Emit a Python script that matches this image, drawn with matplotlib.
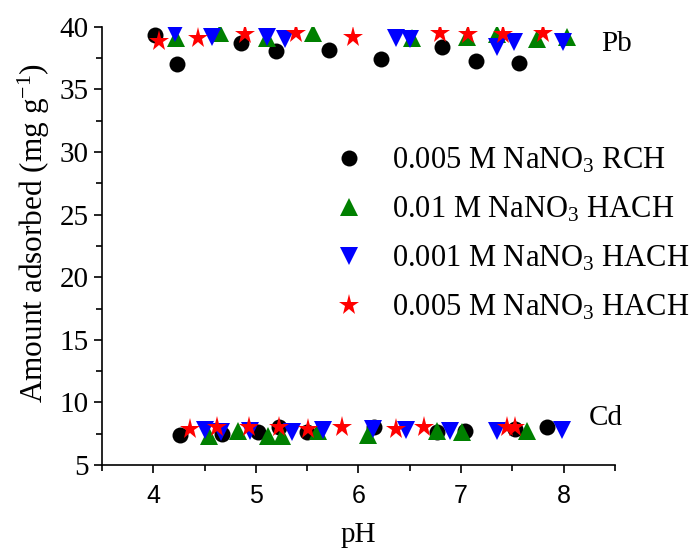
import matplotlib
matplotlib.use("Agg")
import matplotlib.pyplot as plt

plt.rcParams['font.family'] = ['Liberation Serif', 'DejaVu Serif']
plt.rcParams['mathtext.fontset'] = 'custom'
plt.rcParams['mathtext.rm'] = 'Liberation Serif'
plt.rcParams['mathtext.it'] = 'Liberation Serif:italic'

# Pb (upper group)
rch005_pb_ph = [4.02, 4.23, 4.85, 5.20, 5.71, 6.22, 6.81, 7.15, 7.56]
rch005_pb = [39.35, 37.0, 38.75, 38.1, 38.15, 37.4, 38.4, 37.3, 37.1]
hach01_pb_ph = [4.22, 4.65, 5.11, 5.56, 6.52, 7.06, 7.35, 7.74, 8.03]
hach01_pb = [39.1, 39.5, 39.1, 39.5, 39.1, 39.2, 39.4, 39.0, 39.2]
hach001_pb_ph = [4.21, 4.57, 5.11, 5.28, 6.37, 6.50, 7.35, 7.52, 7.99]
hach001_pb = [39.5, 39.2, 39.2, 39.0, 39.1, 39.0, 38.4, 38.8, 38.8]
hach005_pb_ph = [4.06, 4.44, 4.89, 5.39, 5.95, 6.79, 7.07, 7.41, 7.80]
hach005_pb = [38.9, 39.1, 39.4, 39.5, 39.2, 39.5, 39.4, 39.4, 39.5]

# Cd (lower group)
rch005_cd_ph = [4.26, 4.67, 5.02, 5.23, 5.50, 6.15, 6.77, 7.04, 7.53, 7.84]
rch005_cd = [7.4, 7.5, 7.6, 8.0, 7.6, 8.0, 7.6, 7.75, 7.9, 8.0]
hach01_cd_ph = [4.54, 4.83, 5.12, 5.25, 5.61, 6.09, 6.77, 7.01, 7.64]
hach01_cd = [7.3, 7.7, 7.3, 7.3, 7.7, 7.4, 7.7, 7.6, 7.75]
hach001_cd_ph = [4.50, 4.66, 4.94, 5.35, 5.65, 6.14, 6.46, 6.89, 7.35, 7.98]
hach001_cd = [7.8, 7.6, 7.7, 7.6, 7.8, 7.9, 7.8, 7.7, 7.7, 7.8]
hach005_cd_ph = [4.36, 4.62, 4.93, 5.23, 5.51, 5.84, 6.37, 6.64, 7.45, 7.53]
hach005_cd = [7.9, 8.0, 8.0, 8.0, 7.9, 8.0, 7.9, 8.0, 8.0, 8.0]

labels = ['0.005 M NaNO$_3$ RCH', '0.01 M NaNO$_3$ HACH',
          '0.001 M NaNO$_3$ HACH', '0.005 M NaNO$_3$ HACH']

fig = plt.figure(figsize=(6.92, 5.49), dpi=100)
ax = fig.add_axes([0.1474, 0.153, 0.7413, 0.798])

series = [
    (rch005_pb_ph + rch005_cd_ph, rch005_pb + rch005_cd, 'o', 'black', 11.5),
    (hach01_pb_ph + hach01_cd_ph, hach01_pb + hach01_cd, '^', 'green', 12.5),
    (hach001_pb_ph + hach001_cd_ph, hach001_pb + hach001_cd, 'v', 'blue', 12.5),
    (hach005_pb_ph + hach005_cd_ph, hach005_pb + hach005_cd, '*', 'red', 15.5),
]
for (x, y, m, c, ms), lab in zip(series, labels):
    ax.plot(x, y, linestyle='none', marker=m, color=c, markersize=ms,
            markeredgewidth=0, label=lab)

ax.set_xlim(3.5, 8.5)
ax.set_ylim(5, 40)
ax.set_xticks([4, 5, 6, 7, 8])
ax.set_xticks([3.5, 4.5, 5.5, 6.5, 7.5, 8.5], minor=True)
ax.set_yticks(range(5, 41, 5))
ax.set_yticks([7.5, 12.5, 17.5, 22.5, 27.5, 32.5, 37.5], minor=True)

for s in ['top', 'right']:
    ax.spines[s].set_visible(False)
for s in ['left', 'bottom']:
    ax.spines[s].set_linewidth(1.2)

ax.tick_params(which='major', direction='out', length=6, width=1.2)
ax.tick_params(which='minor', direction='out', length=4, width=1.2)
ax.tick_params(axis='y', labelsize=21)
ax.tick_params(axis='x', labelsize=18, pad=8)
for t in ax.get_xticklabels():
    t.set_family(['Liberation Sans', 'DejaVu Sans'])

ax.set_xlabel('pH', fontsize=21, labelpad=10)
ax.set_ylabel('Amount adsorbed (mg g$^{-1}$)', fontsize=22.5, labelpad=2)
ax.yaxis.set_label_coords(-0.098, 0.53)

ax.text(8.37, 38.6, 'Pb', fontsize=21, va='center', ha='left')
ax.text(8.24, 8.75, 'Cd', fontsize=21, va='center', ha='left')

ax.legend(loc='upper left', bbox_to_anchor=(0.452, 0.728), frameon=False,
          fontsize=22, handlelength=1.0, handletextpad=0.9,
          labelspacing=0.64, borderaxespad=0, borderpad=0)

fig.savefig('out.png', dpi=100)
